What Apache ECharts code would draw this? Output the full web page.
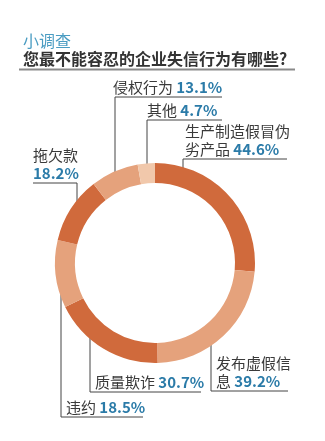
<!DOCTYPE html>
<html><head><meta charset="utf-8">
<script src="https://cdn.jsdelivr.net/npm/echarts@6/dist/echarts.min.js"></script>
<style>html,body{margin:0;padding:0;background:#fff}#c{width:325px;height:441px}</style>
</head><body><div id="c"></div>
<script>
const categories = ['生产制造假冒伪劣产品','发布虚假信息','质量欺诈','违约','拖欠款','侵权行为','其他'];
const labelNames = ['生产制造假冒伪\n劣产品','发布虚假信\n息','质量欺诈','违约','拖欠款\n','侵权行为','其他'];
const values = [44.6, 39.2, 30.7, 18.5, 18.2, 13.1, 4.7];
const colors = ['#d06a3c','#e5a27c','#d06a3c','#e5a27c','#d06a3c','#e5a27c','#f1c8ab'];
// label layout: text left x, underline y, leader x, ring-end y, underline end x
const layout = [
  {x:185, uy:159, lx:183, ly:177, ux:287},
  {x:216, uy:391, lx:211, ly:340, ux:288},
  {x:95,  uy:392, lx:90,  ly:322, ux:201},
  {x:66,  uy:417, lx:61,  ly:285, ux:143},
  {x:33,  uy:183, lx:77,  ly:213, ux:33},
  {x:113, uy:97,  lx:115, ly:178, ux:222},
  {x:147, uy:120, lx:147, ly:165, ux:222}
];
const chart = echarts.init(document.getElementById('c'));
const font = '"Noto Sans CJK SC","Noto Sans",sans-serif';
chart.setOption({
  animation:false,
  title:{
    left:18, top:28,
    text:'小调查',
    textStyle:{color:'#4a9cc2', fontSize:16, fontWeight:'normal', fontFamily:font},
    subtext:'您最不能容忍的企业失信行为有哪些?',
    subtextStyle:{color:'#333', fontSize:16, fontWeight:'bold', fontFamily:font},
    itemGap:2
  },
  graphic:[{type:'rect', shape:{x:19,y:68.5,width:276,height:2}, style:{fill:'#8a8a8a'}}],
  series:[{
    type:'pie',
    radius:[80,100],
    center:[155,263],
    startAngle:90,
    clockwise:true,
    avoidLabelOverlap:false,
    data: categories.map((c,i)=>({name:c, value:values[i], itemStyle:{color:colors[i]}})),
    label:{
      show:true, position:'outside',
      formatter:(p)=>{
        const n = labelNames[p.dataIndex];
        if (p.dataIndex===4) return '{n|拖欠款}\n{v|'+p.value.toFixed(1)+'%}';
        return '{n|'+n+'} {v|'+p.value.toFixed(1)+'%}';
      },
      rich:{
        n:{color:'#3a3a3a', fontSize:15, fontFamily:font, lineHeight:18},
        v:{color:'#2b7ba8', fontSize:15, fontWeight:'bold', fontFamily:font, lineHeight:18}
      }
    },
    labelLine:{show:true, smooth:false, length:10, length2:10, lineStyle:{color:'#444', width:1}},
    labelLayout:(params)=>{
      const L = layout[params.dataIndex];
      return {x:L.x, y:L.uy-1, align:'left', verticalAlign:'bottom',
        labelLinePoints:[[L.lx,L.ly],[L.lx,L.uy],[L.ux,L.uy]]};
    },
    emphasis:{disabled:true}
  }]
});
</script></body></html>
